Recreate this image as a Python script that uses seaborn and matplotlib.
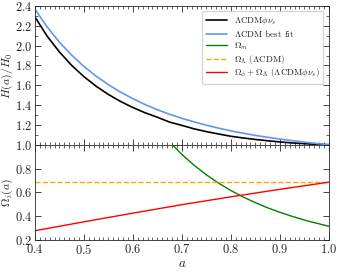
import numpy as np
import pandas as pd
import seaborn as sns
import matplotlib.pyplot as plt
from matplotlib.ticker import MultipleLocator

# scale factor grid
a = [0.400, 0.425, 0.450, 0.475, 0.500, 0.525, 0.550, 0.575, 0.600, 0.625, 0.650, 0.675, 0.700,
     0.725, 0.750, 0.775, 0.800, 0.825, 0.850, 0.875, 0.900, 0.925, 0.950, 0.975, 1.000]
# H(a)/H0
H_phi = [2.290, 2.095, 1.936, 1.801, 1.687, 1.590, 1.507, 1.436, 1.375, 1.322, 1.277, 1.228, 1.195,
         1.160, 1.132, 1.108, 1.085, 1.068, 1.053, 1.040, 1.028, 1.018, 1.010, 1.004, 1.000]
H_best = [2.369, 2.188, 2.035, 1.904, 1.790, 1.692, 1.606, 1.530, 1.464, 1.405, 1.353, 1.307, 1.266,
          1.230, 1.197, 1.167, 1.140, 1.116, 1.094, 1.075, 1.057, 1.041, 1.026, 1.012, 1.000]

a_m = [0.650, 0.675, 0.700, 0.725, 0.750, 0.775, 0.800, 0.825, 0.850, 0.875, 0.900, 0.925, 0.950, 0.975, 1.000]
Om = [1.147, 1.024, 0.918, 0.827, 0.747, 0.677, 0.615, 0.561, 0.513, 0.470, 0.432, 0.398, 0.367, 0.340, 0.315]

a_l = [0.4, 1.0]
OL = [0.685, 0.685]

a_r = [0.4, 0.5, 0.6, 0.7, 0.8, 0.9, 1.0]
Ophi = [0.277, 0.352, 0.425, 0.496, 0.562, 0.625, 0.685]

sns.set_style('ticks')
plt.rcParams['font.family'] = 'serif'
plt.rcParams['font.serif'] = ['cmr10', 'DejaVu Serif']
plt.rcParams['mathtext.fontset'] = 'cm'
plt.rcParams['axes.formatter.use_mathtext'] = True
plt.rcParams['axes.unicode_minus'] = False
plt.rcParams['font.size'] = 9

fig = plt.figure(figsize=(3.39, 2.72), dpi=100)
ax1 = fig.add_axes([0.103, 0.468, 0.867, 0.510])
ax2 = fig.add_axes([0.103, 0.118, 0.867, 0.350], sharex=ax1)

df1 = pd.DataFrame({'a': a, 'phi': H_phi, 'best': H_best})
sns.lineplot(data=df1, x='a', y='phi', ax=ax1, color='black', lw=1.2,
             label=r'$\Lambda$CDM$\phi\nu_s$')
sns.lineplot(data=df1, x='a', y='best', ax=ax1, color='cornflowerblue', lw=1.2,
             label=r'$\Lambda$CDM best fit')

sns.lineplot(x=a_m, y=Om, ax=ax2, color='green', lw=1.0, label=r'$\Omega_m$')
sns.lineplot(x=a_l, y=OL, ax=ax2, color='orange', lw=1.0, linestyle='--',
             label=r'$\Omega_\Lambda$ ($\Lambda$CDM)')
sns.lineplot(x=a_r, y=Ophi, ax=ax2, color='red', lw=1.0,
             label=r'$\Omega_\phi+\Omega_\Lambda$ ($\Lambda$CDM$\phi\nu_s$)')

ax1.set_xlim(0.4, 1.0)
ax1.set_ylim(1.0, 2.4)
ax1.set_yticks([1.2, 1.4, 1.6, 1.8, 2.0, 2.2, 2.4])
ax1.yaxis.set_minor_locator(MultipleLocator(0.1))
ax1.set_ylabel(r'$H(a)/H_0$', fontsize=8.5)
ax1.set_xlabel('')
ax1.tick_params(labelbottom=False)

ax2.set_ylim(0.2, 1.0)
ax2.set_yticks([0.2, 0.4, 0.6, 0.8, 1.0])
ax2.set_ylabel(r'$\Omega_i(a)$', fontsize=8.5)
ax2.set_xlabel(r'$a$', labelpad=1, fontsize=9.5)
ax2.xaxis.set_major_locator(MultipleLocator(0.1))
ax2.xaxis.set_minor_locator(MultipleLocator(0.01))

for ax in (ax1, ax2):
    ax.tick_params(which='both', direction='in', top=True, right=True, labelsize=9, pad=2)
    ax.tick_params(which='major', length=4, width=0.6)
    ax.tick_params(which='minor', length=2, width=0.5)
    ax.yaxis.set_label_coords(-0.068, 0.5)
    for s in ax.spines.values():
        s.set_linewidth(0.6)

h1, l1 = ax1.get_legend_handles_labels()
h2, l2 = ax2.get_legend_handles_labels()
ax2.get_legend().remove()
ax1.legend(h1 + h2, l1 + l2, loc='upper right', fontsize=6.5, frameon=True,
           handlelength=2.3, borderpad=0.4, labelspacing=0.12, fancybox=True,
           borderaxespad=0.6)

fig.savefig('out.png', dpi=100)
